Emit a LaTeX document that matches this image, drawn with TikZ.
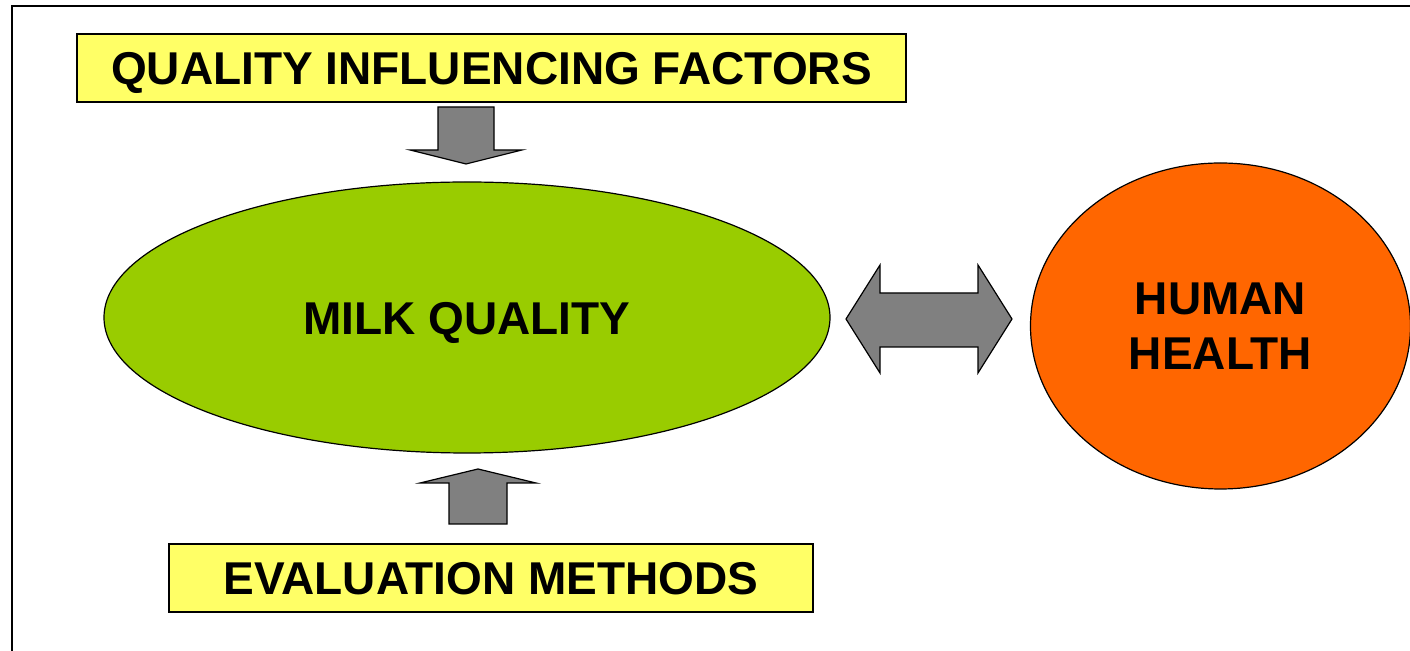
\documentclass[tikz,border=0pt]{standalone}
\usepackage{fontspec}
\setmainfont{Liberation Sans}
\usetikzlibrary{shapes.geometric}

\definecolor{boxyellow}{HTML}{FFFF66}
\definecolor{milkgreen}{HTML}{99CC00}
\definecolor{healthorange}{HTML}{FF6600}
\definecolor{arrowgray}{HTML}{808080}

\tikzset{
  caps/.style={text height=16.8pt, text depth=0pt},
  label box/.style={draw=black, fill=boxyellow, line width=0.8pt, inner sep=0pt, caps,
    minimum height=34pt, font=\fontsize{23}{27.5}\selectfont\bfseries},
  blob/.style={ellipse, draw=black, line width=0.6pt, inner sep=0pt, align=center,
    font=\fontsize{23}{27.5}\selectfont\bfseries},
  block arrow/.style={draw=black, fill=arrowgray, line width=0.6pt, line join=miter},
}

\begin{document}
\begin{tikzpicture}[x=0.5pt, y=-0.5pt]
\useasboundingbox (0,0) rectangle (1410,651);
\clip (0,0) rectangle (1410,651);
\draw[line width=1pt] (12,6) rectangle (1430,670);

\node[label box, minimum width=414.5pt] (factors) at (491.5,68) {QUALITY INFLUENCING FACTORS};
\node[label box, minimum width=322pt] (methods) at (491,578) {EVALUATION METHODS};
\node[blob, caps, fill=milkgreen, minimum width=363pt, minimum height=135.5pt] (milk) at (467,317.5) {MILK QUALITY};
\node[blob, fill=healthorange, minimum width=190pt, minimum height=163pt] (health) at (1220.5,326) {HUMAN\\HEALTH};

% factors -> milk
\draw[block arrow] (438,107) -- (494,107) -- (494,150) -- (522,150) -- (466,164)
  -- (410,150) -- (438,150) -- cycle;
% methods -> milk
\draw[block arrow] (449,524) -- (507,524) -- (507,483) -- (536,483) -- (478,469)
  -- (420,483) -- (449,483) -- cycle;
% milk <-> health
\draw[block arrow] (846,319) -- (880,265) -- (880,293) -- (978,293) -- (978,265)
  -- (1012,319) -- (978,373) -- (978,347) -- (880,347) -- (880,373) -- cycle;
\end{tikzpicture}
\end{document}
